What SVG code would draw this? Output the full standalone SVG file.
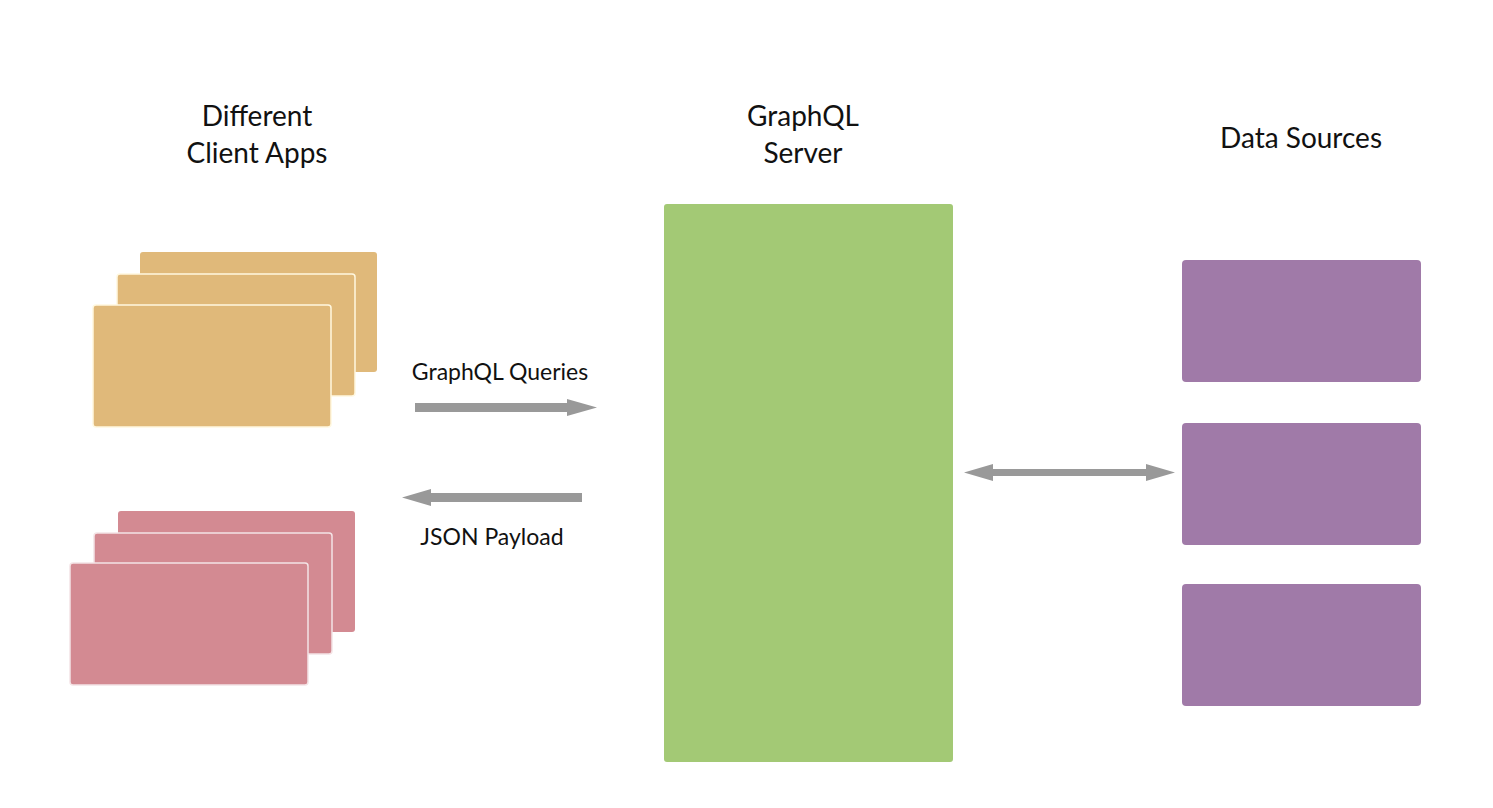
<svg xmlns="http://www.w3.org/2000/svg" width="1493" height="808" viewBox="0 0 1493 808">
<style>
.t{font-family:"Source Sans Pro","Lato","Noto Sans",sans-serif;fill:#111;text-anchor:middle}
.h{font-size:28px}
.l{font-size:23px}
.y{fill:#E0B97A}
.p{fill:#D38A92}
.ys{stroke:#FFF8E0;stroke-width:1.5}
.ps{stroke:#F4E4E6;stroke-width:1.5}
.g{fill:#A3C975}
.v{fill:#A07AA8}
.a{fill:#999999}
</style>
<rect width="1493" height="808" fill="#ffffff"/>
<g id="title-clients"><text class="t h" x="257" y="126">Different</text><text class="t h" x="257" y="163">Client Apps</text></g>
<g id="title-server"><text class="t h" x="803" y="126">GraphQL</text><text class="t h" x="803" y="163">Server</text></g>
<g id="title-sources"><text class="t h" x="1301" y="148">Data Sources</text></g>
<g id="client-apps-yellow">
<rect class="y" x="140" y="252" width="237" height="120" rx="3"/>
<rect class="y ys" x="117" y="274" width="238" height="122" rx="3"/>
<rect class="y ys" x="93" y="305" width="238" height="122" rx="3"/>
</g>
<g id="client-apps-pink">
<rect class="p" x="118" y="511" width="237" height="121" rx="3"/>
<rect class="p ps" x="94" y="533" width="238" height="121" rx="3"/>
<rect class="p ps" x="70" y="563" width="238" height="122" rx="3"/>
</g>
<g id="graphql-server"><rect class="g" x="664" y="204" width="289" height="558" rx="3"/></g>
<g id="source-1"><rect class="v" x="1182" y="260" width="239" height="122" rx="4"/></g>
<g id="source-2"><rect class="v" x="1182" y="423" width="239" height="122" rx="4"/></g>
<g id="source-3"><rect class="v" x="1182" y="584" width="239" height="122" rx="4"/></g>
<g id="connectors">
<polygon class="a" points="415,403 567,403 567,399 597,407.5 567,416 567,412 415,412"/>
<polygon class="a" points="582,493 431,493 431,489 402,497.5 431,506 431,502 582,502"/>
<polygon class="a" points="964,472.5 993,464 993,469 1146,469 1146,464 1175,472.5 1146,481 1146,476 993,476 993,481"/>
<text class="t l" x="500" y="380">GraphQL Queries</text>
<text class="t l" x="492" y="545">JSON Payload</text>
</g>
</svg>
